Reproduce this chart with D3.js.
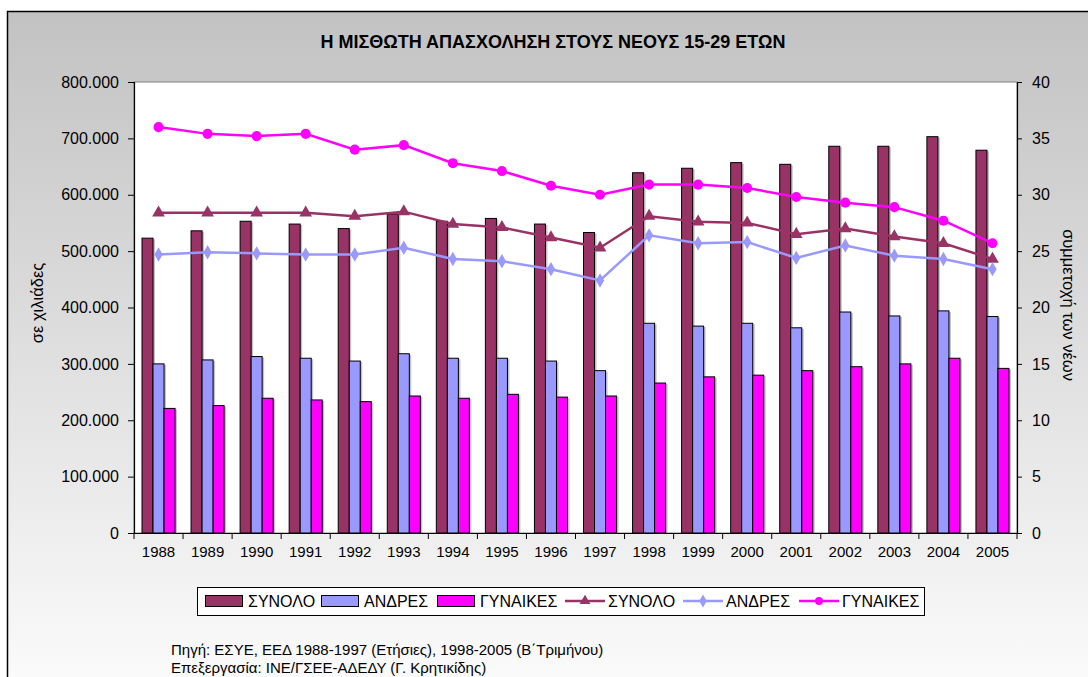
<!DOCTYPE html>
<html>
<head>
<meta charset="utf-8">
<script src="https://cdn.jsdelivr.net/npm/d3@7"></script>
<style>
  body { margin: 0; background: #fff; }
  text { font-family: "Liberation Sans", Arial, sans-serif; fill: #000; }
</style>
</head>
<body>
<div id="chart"></div>
<script>
var years = ["1988","1989","1990","1991","1992","1993","1994","1995","1996","1997",
             "1998","1999","2000","2001","2002","2003","2004","2005"];
// bars, thousands of employees (left axis)
var synoloBars = [523000,536000,553000,548000,540000,566000,553000,558000,548000,533000,
                  639000,647000,657000,654000,686000,686000,703000,679000];
var andresBars = [300000,307000,313000,310000,305000,318000,310000,310000,305000,288000,
                  372000,367000,372000,364000,392000,385000,394000,384000];
var gynaikesBars = [221000,226000,239000,236000,233000,243000,239000,246000,241000,243000,
                    266000,277000,280000,288000,295000,300000,310000,292000];
// lines, participation % (right axis)
var synoloLine = [28.4,28.4,28.4,28.4,28.1,28.5,27.4,27.1,26.2,25.3,
                  28.1,27.6,27.5,26.5,27.0,26.3,25.7,24.3];
var andresLine = [24.7,24.9,24.8,24.7,24.7,25.3,24.3,24.1,23.4,22.4,
                  26.4,25.7,25.8,24.4,25.5,24.6,24.3,23.4];
var gynaikesLine = [36.0,35.4,35.2,35.4,34.0,34.4,32.8,32.1,30.8,30.0,
                    30.9,30.9,30.6,29.8,29.3,28.9,27.7,25.7];
var leftTicks = [0,100000,200000,300000,400000,500000,600000,700000,800000];
var rightTicks = [0,5,10,15,20,25,30,35,40];

var width = 1088, height = 677;
var plot = {left: 134, right: 1017, top: 82, bottom: 533};
var cSyn = "#993366", cAnd = "#9999ff", cGyn = "#ff00ff";

var svg = d3.select("#chart").append("svg")
    .attr("width", width)
    .attr("height", height);

var grad = svg.append("defs").append("linearGradient")
    .attr("id", "bg").attr("x1", 0).attr("y1", 0).attr("x2", 0).attr("y2", 1);
grad.append("stop").attr("offset", "0%").attr("stop-color", "#c2c2c2");
grad.append("stop").attr("offset", "100%").attr("stop-color", "#fdfdfd");

svg.append("rect")
    .attr("x", 7.5).attr("y", 11.5)
    .attr("width", width + 20).attr("height", height + 20)
    .attr("fill", "url(#bg)")
    .attr("stroke", "#000").attr("stroke-width", 1.5);

svg.append("rect")
    .attr("x", plot.left).attr("y", plot.top)
    .attr("width", plot.right - plot.left).attr("height", plot.bottom - plot.top)
    .attr("fill", "#fff")
    .attr("stroke", "#808080").attr("stroke-width", 1);

var locale = d3.formatLocale({decimal: ",", thousands: ".", grouping: [3], currency: ["", ""]});
var fmt = locale.format(",");

var x = d3.scaleBand().domain(years).range([plot.left, plot.right]);
var inner = d3.scaleBand().domain([0, 1, 2]).range([8, x.bandwidth() - 8]);
var yL = d3.scaleLinear().domain([0, 800000]).range([plot.bottom, plot.top]);
var yR = d3.scaleLinear().domain([0, 40]).range([plot.bottom, plot.top]);

// bars
var barSeries = [
  {values: synoloBars, color: cSyn},
  {values: andresBars, color: cAnd},
  {values: gynaikesBars, color: cGyn}
];
barSeries.forEach(function(s, si) {
  svg.append("g").selectAll("rect")
    .data(s.values)
    .enter()
    .append("rect")
    .attr("x", function(d, i) { return x(years[i]) + inner(si) + 2; })
    .attr("y", function(d) { return yL(d) + 1; })
    .attr("width", inner.bandwidth())
    .attr("height", function(d) { return plot.bottom - yL(d) - 1; })
    .attr("fill", "#9a9a9a").attr("opacity", 0.6);
});
barSeries.forEach(function(s, si) {
  svg.append("g").selectAll("rect")
    .data(s.values)
    .enter()
    .append("rect")
    .attr("x", function(d, i) { return x(years[i]) + inner(si); })
    .attr("y", function(d) { return yL(d); })
    .attr("width", inner.bandwidth())
    .attr("height", function(d) { return plot.bottom - yL(d); })
    .attr("fill", s.color)
    .attr("stroke", "#000").attr("stroke-width", 1);
});

// axes
var leftAxis = d3.axisLeft(yL).tickValues(leftTicks).tickFormat(fmt).tickSize(6).tickPadding(9);
var gL = svg.append("g").attr("transform", "translate(" + plot.left + ",0)").call(leftAxis);
var rightAxis = d3.axisRight(yR).tickValues(rightTicks).tickSize(5).tickPadding(10);
var gR = svg.append("g").attr("transform", "translate(" + plot.right + ",0)").call(rightAxis);
var bottomAxis = d3.axisBottom(x).tickSize(0).tickPadding(13);
var gB = svg.append("g").attr("transform", "translate(0," + plot.bottom + ")").call(bottomAxis);
[gL, gR].forEach(function(g) {
  g.selectAll("text").style("font-size", "16px").style("font-family", "'Liberation Sans', Arial, sans-serif");
});
gB.selectAll("text").style("font-size", "15px").style("font-family", "'Liberation Sans', Arial, sans-serif");
[gL, gR, gB].forEach(function(g) {
  g.select(".domain").attr("stroke", "#000").attr("stroke-width", 1.2);
});
// category separators on x axis
gB.selectAll("line.sep")
  .data(years.concat(["end"]))
  .enter()
  .append("line")
  .attr("class", "sep")
  .attr("x1", function(d, i) { return plot.left + i * x.bandwidth(); })
  .attr("x2", function(d, i) { return plot.left + i * x.bandwidth(); })
  .attr("y1", 0).attr("y2", 6)
  .attr("stroke", "#000");

// lines
var lineSeries = [
  {values: synoloLine, color: cSyn, marker: d3.symbolTriangle, size: 70},
  {values: andresLine, color: cAnd, marker: d3.symbolDiamond, size: 60},
  {values: gynaikesLine, color: cGyn, marker: d3.symbolCircle, size: 80}
];
var line = d3.line()
    .x(function(d, i) { return x(years[i]) + x.bandwidth() / 2; })
    .y(function(d) { return yR(d); });
lineSeries.forEach(function(s) {
  svg.append("path")
    .datum(s.values)
    .attr("d", line)
    .attr("fill", "none")
    .attr("stroke", s.color)
    .attr("stroke-width", 2.5);
  svg.append("g").selectAll("path")
    .data(s.values)
    .enter()
    .append("path")
    .attr("d", d3.symbol().type(s.marker).size(s.size))
    .attr("transform", function(d, i) {
      return "translate(" + (x(years[i]) + x.bandwidth() / 2) + "," + yR(d) + ")";
    })
    .attr("fill", s.color);
});

// title and axis labels
svg.append("text")
    .attr("x", 553).attr("y", 48)
    .attr("text-anchor", "middle")
    .style("font-size", "18px").style("font-weight", "bold")
    .text("Η ΜΙΣΘΩΤΗ ΑΠΑΣΧΟΛΗΣΗ ΣΤΟΥΣ ΝΕΟΥΣ 15-29 ΕΤΩΝ");
svg.append("text")
    .attr("transform", "translate(43,303) rotate(-90)")
    .attr("text-anchor", "middle")
    .style("font-size", "16.5px")
    .text("σε χιλιάδες");
svg.append("text")
    .attr("transform", "translate(1063,305) rotate(90)")
    .attr("text-anchor", "middle")
    .style("font-size", "16.5px")
    .text("συμμετοχή των νέων");

// legend
var legend = svg.append("g");
legend.append("rect")
    .attr("x", 197.5).attr("y", 587.5).attr("width", 727).attr("height", 28)
    .attr("fill", "#fff").attr("stroke", "#000").attr("stroke-width", 1);
var legendItems = [
  {label: "ΣΥΝΟΛΟ", color: cSyn, type: "bar", x: 205},
  {label: "ΑΝΔΡΕΣ", color: cAnd, type: "bar", x: 321},
  {label: "ΓΥΝΑΙΚΕΣ", color: cGyn, type: "bar", x: 437},
  {label: "ΣΥΝΟΛΟ", color: cSyn, type: "line", marker: d3.symbolTriangle, x: 565},
  {label: "ΑΝΔΡΕΣ", color: cAnd, type: "line", marker: d3.symbolDiamond, x: 683},
  {label: "ΓΥΝΑΙΚΕΣ", color: cGyn, type: "line", marker: d3.symbolCircle, x: 799}
];
legendItems.forEach(function(it) {
  var ly = 601;
  if (it.type === "bar") {
    legend.append("rect")
      .attr("x", it.x + 0.5).attr("y", ly - 5.5).attr("width", 37).attr("height", 11)
      .attr("fill", it.color).attr("stroke", "#000");
  } else {
    legend.append("line")
      .attr("x1", it.x).attr("x2", it.x + 40).attr("y1", ly).attr("y2", ly)
      .attr("stroke", it.color).attr("stroke-width", 2.5);
    legend.append("path")
      .attr("d", d3.symbol().type(it.marker).size(50))
      .attr("transform", "translate(" + (it.x + 20) + "," + ly + ")")
      .attr("fill", it.color);
  }
  legend.append("text")
    .attr("x", it.x + 43).attr("y", ly + 6)
    .style("font-size", "16px")
    .text(it.label);
});

// source notes
svg.append("text")
    .attr("x", 171).attr("y", 655)
    .style("font-size", "15px")
    .text("Πηγή: ΕΣΥΕ, ΕΕΔ 1988-1997 (Ετήσιες), 1998-2005 (Β΄Τριμήνου)");
svg.append("text")
    .attr("x", 171).attr("y", 673)
    .style("font-size", "15px")
    .text("Επεξεργασία: ΙΝΕ/ΓΣΕΕ-ΑΔΕΔΥ (Γ. Κρητικίδης)");
</script>
</body>
</html>
